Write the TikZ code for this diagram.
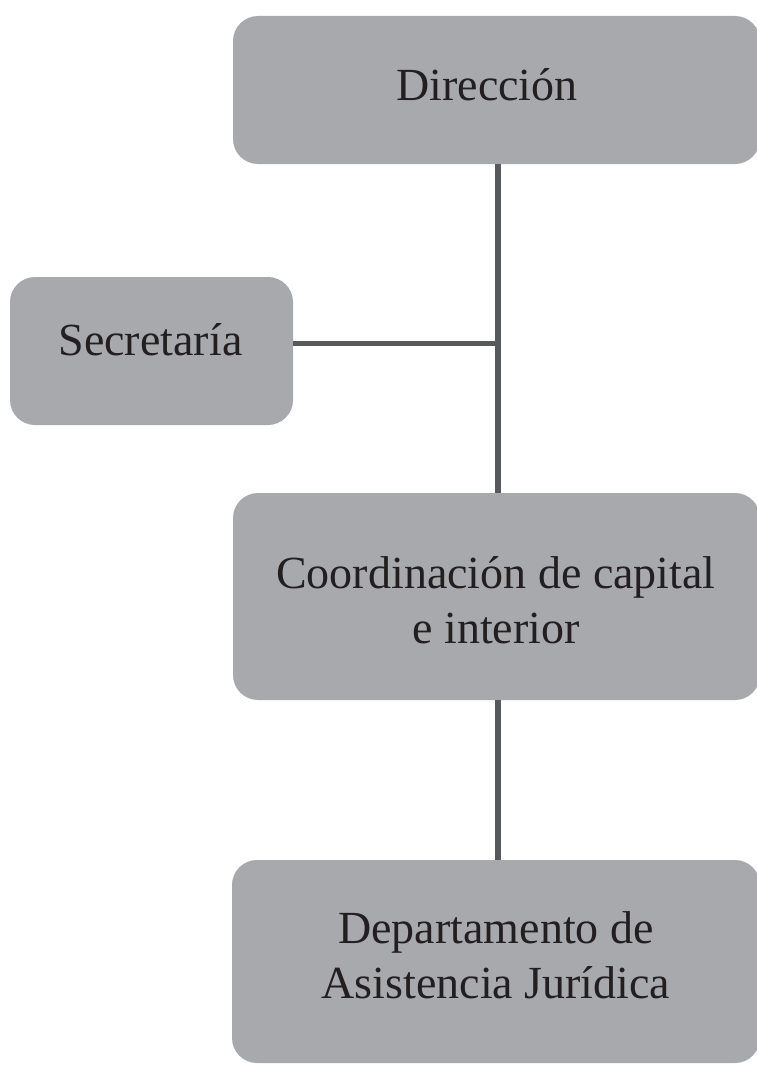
\documentclass[tikz,border=0pt]{standalone}
\usepackage{fontspec}
\setmainfont{Liberation Serif}
\definecolor{boxgray}{HTML}{A7A9AC}
\definecolor{linegray}{HTML}{58595B}
\definecolor{txt}{HTML}{231F20}
\begin{document}
\begin{tikzpicture}[x=1pt,y=-1pt,
  orgbox/.style={fill=boxgray,draw=none,rounded corners=25pt},
  lbl/.style={anchor=base,inner sep=0pt,text=txt,font=\fontsize{46}{55}\selectfont},
  conn/.style={draw=linegray,line width=5.5pt}]
\useasboundingbox (0,0) rectangle (757,1065);
% boxes
\node[orgbox,minimum width=527pt,minimum height=148pt] (dir) at (496.5,90) {};
\node[orgbox,minimum width=283pt,minimum height=148pt] (sec) at (151.5,351) {};
\node[orgbox,minimum width=527pt,minimum height=207pt] (coor) at (496.5,596.5) {};
\node[orgbox,minimum width=528pt,minimum height=203pt] (dep) at (496,961.5) {};
% texts
\node[lbl] (tdir) at (487,100) {Dirección};
\node[lbl] (tsec) at (150.5,355) {Secretaría};
\node[lbl] (tcoor1) at (496,588) {Coordinación de capital};
\node[lbl] (tcoor2) at (496,643) {e interior};
\node[lbl] (tdep1) at (496,943) {Departamento de};
\node[lbl] (tdep2) at (496,998) {Asistencia Jurídica};
% connectors
\coordinate (j) at (498,343.5);
\draw[conn] (dir.south -| j) -- (coor.north -| j);
\draw[conn] (sec.east |- j) -- (j);
\draw[conn] (coor.south -| j) -- (dep.north -| j);
\end{tikzpicture}
\end{document}
